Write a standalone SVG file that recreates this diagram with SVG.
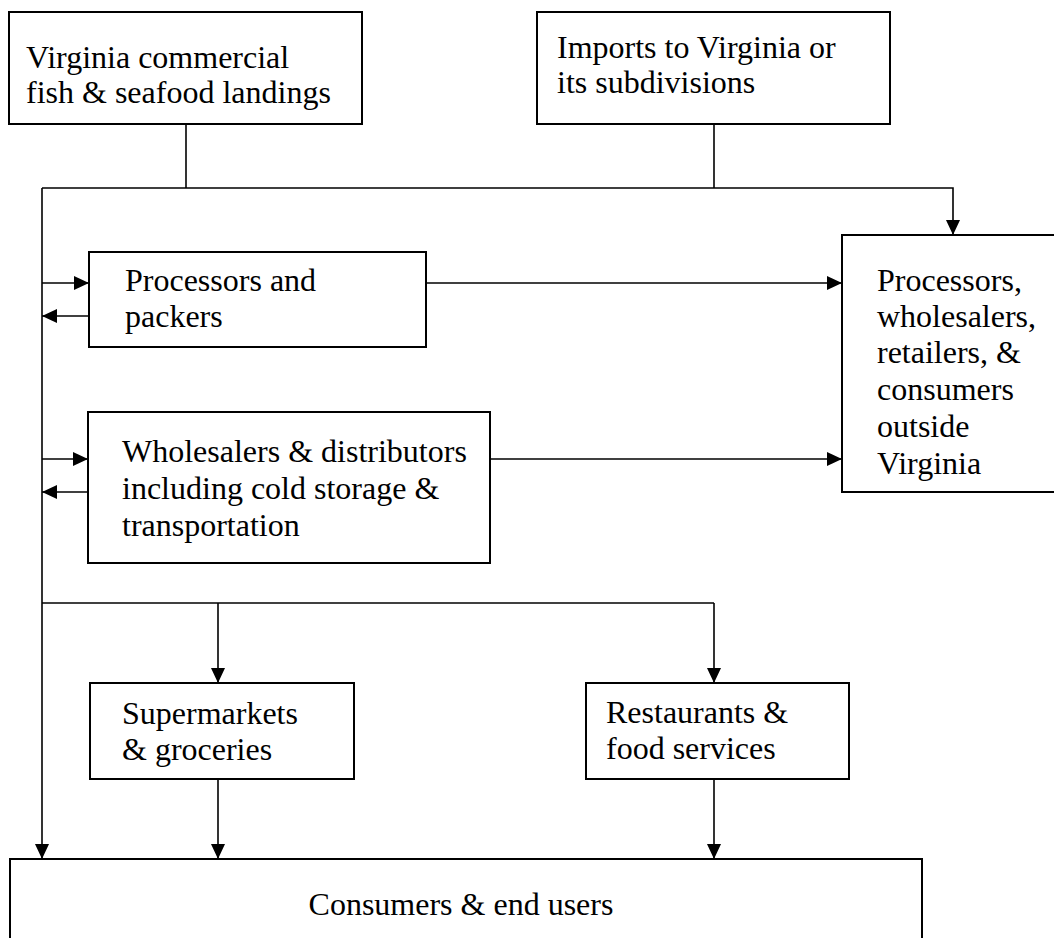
<svg xmlns="http://www.w3.org/2000/svg" width="1054" height="938" viewBox="0 0 1054 938">
  <defs>
    <marker id="arr" markerUnits="userSpaceOnUse" markerWidth="16" markerHeight="14" refX="15" refY="7" orient="auto">
      <path d="M0,0 L15,7 L0,14 z" fill="#000"/>
    </marker>
    <style>
      .box { fill: #fff; stroke: #000; stroke-width: 2; }
      .lbl { font-family: "Liberation Serif", "Times New Roman", serif; font-size: 32px; fill: #000; }
      .ln { fill: none; stroke: #000; stroke-width: 1.6; }
      .ar { fill: none; stroke: #000; stroke-width: 1.6; marker-end: url(#arr); }
    </style>
  </defs>
  <rect width="1054" height="938" fill="#fff"/>

  <g id="connectors">
    <polyline class="ln" points="186,124 186,188"/>
    <polyline class="ln" points="714,124 714,188"/>
    <polyline class="ar" points="42,188 953,188 953,235"/>
    <polyline class="ar" points="42,188 42,859"/>
    <line class="ar" x1="42" y1="283" x2="89" y2="283"/>
    <line class="ar" x1="89" y1="316" x2="42" y2="316"/>
    <line class="ar" x1="42" y1="459" x2="88" y2="459"/>
    <line class="ar" x1="88" y1="492" x2="42" y2="492"/>
    <line class="ar" x1="426" y1="283" x2="842" y2="283"/>
    <line class="ar" x1="490" y1="459" x2="842" y2="459"/>
    <polyline class="ln" points="42,603 714,603"/>
    <line class="ar" x1="218" y1="603" x2="218" y2="683"/>
    <line class="ar" x1="714" y1="603" x2="714" y2="683"/>
    <line class="ar" x1="218" y1="779" x2="218" y2="859"/>
    <line class="ar" x1="714" y1="779" x2="714" y2="859"/>
  </g>

  <g id="landings">
    <rect class="box" x="9" y="12" width="353" height="112"/>
    <text class="lbl"><tspan x="26" y="68">Virginia commercial</tspan><tspan x="26" y="103">fish &amp; seafood landings</tspan></text>
  </g>

  <g id="imports">
    <rect class="box" x="537" y="12" width="353" height="112"/>
    <text class="lbl"><tspan x="557" y="58">Imports to Virginia or</tspan><tspan x="557" y="93">its subdivisions</tspan></text>
  </g>

  <g id="processors">
    <rect class="box" x="89" y="252" width="337" height="95"/>
    <text class="lbl"><tspan x="125" y="291">Processors and</tspan><tspan x="125" y="327">packers</tspan></text>
  </g>

  <g id="wholesalers">
    <rect class="box" x="88" y="412" width="402" height="151"/>
    <text class="lbl"><tspan x="122" y="462">Wholesalers &amp; distributors</tspan><tspan x="122" y="499">including cold storage &amp;</tspan><tspan x="122" y="536">transportation</tspan></text>
  </g>

  <g id="outside">
    <rect class="box" x="842" y="235" width="230" height="257"/>
    <text class="lbl"><tspan x="877" y="291">Processors,</tspan><tspan x="877" y="327">wholesalers,</tspan><tspan x="877" y="363">retailers, &amp;</tspan><tspan x="877" y="400">consumers</tspan><tspan x="877" y="437">outside</tspan><tspan x="877" y="474">Virginia</tspan></text>
  </g>

  <g id="supermarkets">
    <rect class="box" x="90" y="683" width="264" height="96"/>
    <text class="lbl"><tspan x="122" y="724">Supermarkets</tspan><tspan x="122" y="760">&amp; groceries</tspan></text>
  </g>

  <g id="restaurants">
    <rect class="box" x="586" y="683" width="263" height="96"/>
    <text class="lbl"><tspan x="606" y="723">Restaurants &amp;</tspan><tspan x="606" y="759">food services</tspan></text>
  </g>

  <g id="consumers">
    <rect class="box" x="10" y="859" width="912" height="100"/>
    <text class="lbl" x="461" y="915" text-anchor="middle">Consumers &amp; end users</text>
  </g>
</svg>
